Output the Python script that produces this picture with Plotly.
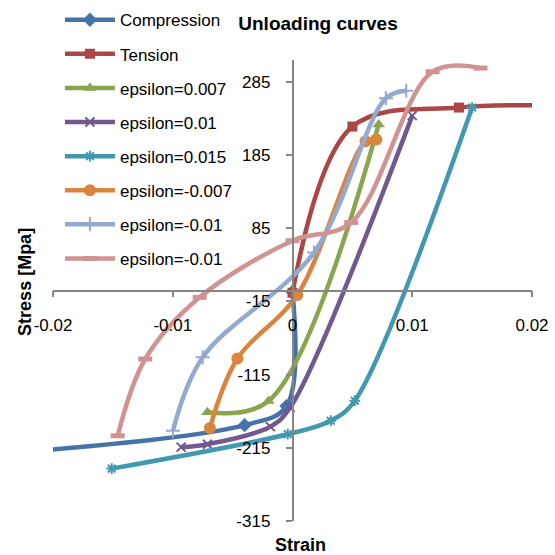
import plotly.graph_objects as go

# ---- data (strain, stress in MPa) ----
comp_strain = [-0.022, -0.004, -0.0005, 0.0]
comp_stress = [-220, -184, -158, -2]

tens_strain = [0.0, 0.005, 0.0139, 0.024]
tens_stress = [-3, 224, 250, 252]

e007_strain = [0.0072, -0.002, -0.0071]
e007_stress = [227, -151, -166.5]

e01_strain = [0.01, -0.0002, -0.00185, -0.0071, -0.0093]
e01_stress = [239, -160, -186, -210, -214]

e015_strain = [0.015, 0.0052, 0.0032, -0.0004, -0.0151]
e015_stress = [250, -150.6, -178, -196.4, -243.4]

em007_strain = [-0.0069, -0.0046, 0.0004, 0.0061, 0.007]
em007_stress = [-188, -93, -6, 204, 206.5]

em01a_strain = [-0.00998, -0.0075, 0.0018, 0.0078, 0.0095]
em01a_stress = [-191.6, -91.3, 52, 262.7, 273]

em01b_strain = [-0.0146, -0.0123, -0.00775, 0.0, 0.0049, 0.0117, 0.0157]
em01b_stress = [-198.5, -93.6, -9.3, 68, 93, 299, 304]

series_names = ["Compression", "Tension", "epsilon=0.007", "epsilon=0.01",
                "epsilon=0.015", "epsilon=-0.007", "epsilon=-0.01", "epsilon=-0.01"]

x_ticks = [-0.02, -0.01, 0, 0.01, 0.02]
x_tick_text = ["-0.02", "-0.01", "0", "0.01", "0.02"]
y_ticks = [-315, -215, -115, -15, 85, 185, 285]
y_tick_text = ["-315", "-215", "-115", "-15", "85", "185", "285"]

# ---- styles ----
styles = [
    dict(color="#4572A7", symbol="diamond", size=11, lw=0),
    dict(color="#AA4643", symbol="square", size=10, lw=0),
    dict(color="#89A54E", symbol="triangle-up", size=11, lw=0),
    dict(color="#71588F", symbol="x-thin", size=9, lw=2),
    dict(color="#4198AF", symbol="asterisk", size=9, lw=2),
    dict(color="#DB843D", symbol="circle", size=12, lw=0),
    dict(color="#93A9CF", symbol="cross-thin", size=10, lw=2),
    dict(color="#D19392", symbol="line-ew", size=10, lw=5),
]

data = [
    (comp_strain, comp_stress),
    (tens_strain, tens_stress),
    (e007_strain, e007_stress),
    (e01_strain, e01_stress),
    (e015_strain, e015_stress),
    (em007_strain, em007_stress),
    (em01a_strain, em01a_stress),
    (em01b_strain, em01b_stress),
]

font_family = "Liberation Sans, Arial, sans-serif"

fig = go.Figure()
for i, ((xs, ys), name, st) in enumerate(zip(data, series_names, styles)):
    fig.add_trace(go.Scatter(
        x=xs, y=ys, name=name, mode="lines+markers",
        line=dict(color=st["color"], width=4.5, shape="spline", smoothing=1),
        marker=dict(symbol=st["symbol"], size=st["size"], color=st["color"],
                    line=dict(color=st["color"], width=st["lw"])),
        legendgroup="g%d" % i,
    ))

fig.update_layout(
    width=555, height=555,
    margin=dict(l=53, r=23, t=60, b=34, autoexpand=False),
    paper_bgcolor="white", plot_bgcolor="white",
    font=dict(family=font_family, size=17, color="black"),
    title=dict(text="<b>Unloading curves</b>", x=0.573, xanchor="center",
               y=0.958, yanchor="middle", yref="container",
               font=dict(size=19, family=font_family, color="black")),
    showlegend=True,
    legend=dict(x=0.108, y=0.996, xanchor="left", yanchor="top",
                xref="container", yref="container", maxheight=600,
                bgcolor="rgba(0,0,0,0)", traceorder="grouped",
                tracegroupgap=9, font=dict(size=17), itemwidth=50),
    xaxis=dict(range=[-0.02, 0.02], tickmode="array", tickvals=x_ticks,
               ticktext=x_tick_text, showgrid=False, zeroline=False,
               showline=True, linecolor="#868686", linewidth=1.5,
               ticks="outside", ticklen=6, tickcolor="#868686", tickwidth=1.5,
               anchor="free", position=0.5, ticklabelstandoff=13,
               tickfont=dict(size=17)),
    yaxis=dict(range=[-315, 315], tickmode="array", tickvals=y_ticks,
               ticktext=y_tick_text,
               showgrid=False, zeroline=False,
               showline=True, linecolor="#868686", linewidth=1.5,
               ticks="outside", ticklen=6, tickcolor="#868686", tickwidth=1.5,
               anchor="free", position=0.5, ticklabelstandoff=12,
               tickfont=dict(size=17)),
    annotations=[
        dict(text="<b>Stress [Mpa]</b>", xref="paper", yref="paper",
             x=-0.057, y=0.518, textangle=-90, showarrow=False,
             xanchor="center", yanchor="middle", font=dict(size=18)),
        dict(text="<b>Strain</b>", xref="paper", yref="paper",
             x=0.516, y=-0.052, showarrow=False,
             xanchor="center", yanchor="middle", font=dict(size=18)),
    ],
)

fig.write_html("out.html")
